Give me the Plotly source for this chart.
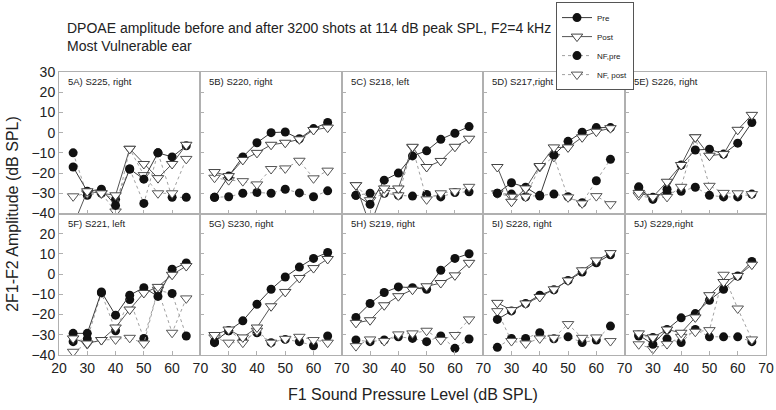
import plotly.graph_objects as go
from plotly.subplots import make_subplots

# ---------------- data ----------------
f1_levels = [25, 30, 35, 40, 45, 50, 55, 60, 65]

panel_labels = ["5A) S225, right", "5B) S220, right", "5C) S218, left", "5D) S217,right", "5E) S226, right",
                "5F) S221, left", "5G) S230, right", "5H) S219, right", "5I) S228, right", "5J) S229,right"]

pre_A = [-17, -29, -28, -36, -18, -23, -10, -12, -6.5]
post_A = [-46, -29, -30, -31, -8, -15.5, -22.5, -15.5, -6]
nfpre_A = [-10, -31, -30, -33, -18, -35, -10, -32, -32]
nfpost_A = [-31.5, -30, -30, -39, -8, -21, -30, -30, -13]

pre_B = [-32, -21.5, -12, -5, 0, 0.3, -3, 2, 5]
post_B = [-19.5, -21.5, -13.5, -10, -6, -5, -3.3, 1.3, 2.5]
nfpre_B = [-32, -31.7, -30, -29.6, -30, -28, -29.8, -31.7, -28.8]
nfpost_B = [-22.3, -23.5, -24, -25.6, -18, -17.7, -13.9, -22.6, -18.8]

pre_C = [-31, -35.4, -23.5, -20, -11.5, -9, -3.3, -0.3, 3]
post_C = [-26, -46, -27.6, -27.6, -7, -17, -14, -7, -3]
nfpre_C = [-31, -30, -30, -31, -31.4, -30.6, -31.8, -29.6, -29.3]
nfpost_C = [-26, -33.4, -29.8, -31, -7.3, -33, -30, -29, -26.8]

pre_D = [-30, -24.8, -27, -31.4, -11, -4.3, 0.2, 2.5, 2.5]
post_D = [-17, -34.2, -27.6, -16.5, -7.3, -7.3, -2.3, 0.5, 2.2]
nfpre_D = [-30, -30.4, -31.7, -31, -30.4, -31.7, -34.7, -23.8, -13.2]
nfpost_D = [-30, -31.7, -31.7, -17, -12, -32, -35, -31.4, -35.4]

pre_E = [-27.3, -33, -28, -16, -8.6, -8.2, -10.6, -5.2, 5]
post_E = [-29.8, -31.8, -24.3, -16, -2.3, -11.4, -10.6, 1.4, 8.8]
nfpre_E = [-26.8, -32, -29.8, -29, -27, -31, -31.8, -31.8, -30.4]
nfpost_E = [-31, -32.6, -31.8, -26.8, -2.3, -26.3, -29.8, -30, -30.4]

pre_F = [-29.3, -29.3, -8.8, -20.3, -10.4, -6.7, -11, 2.4, 5.5]
post_F = [-31.8, -34.3, -32.6, -26.4, -17.5, -9.3, -6.3, -0.3, 4]
nfpre_F = [-33.4, -32, -9.3, -28, -12.6, -31.8, -8, -9.6, -30.6]
nfpost_F = [-38.4, -34.6, -32.6, -32.3, -31.5, -34.3, -7.7, -29, -12]

pre_G = [-33.4, -28, -23.1, -14.9, -7.5, -1.4, 3.5, 7.8, 10.7]
post_G = [-30.1, -27.4, -31.3, -26.4, -15.9, -8.8, -1.9, 3, 7.5]
nfpre_G = [-33.9, -28, -32.6, -29, -33.9, -32.3, -33.4, -35.4, -30.6]
nfpost_G = [-31.3, -33.9, -33.9, -28, -33.9, -32, -31, -32.6, -33.9]

pre_H = [-21.4, -14.5, -9.1, -6.3, -6.7, -7.5, 1.9, 7.8, 10.1]
post_H = [-24.1, -22.8, -15.4, -10.9, -7.7, -6, -4.4, -0.6, 5.6]
nfpre_H = [-32.6, -33.4, -32.6, -31, -31.8, -33.4, -30.6, -36.7, -32.1]
nfpost_H = [-35.6, -32.3, -33.1, -29.8, -29.3, -28, -32.6, -30.1, -22.4]

pre_I = [-22.4, -18.2, -14.5, -10.4, -7.7, -3.1, 1, 5.6, 9.6]
post_I = [-14.2, -17.8, -14.5, -11.3, -7.5, -3.1, 1.9, 6.8, 10.4]
nfpre_I = [-36.2, -31.8, -31.8, -29, -32, -31, -33.8, -32.6, -25.7]
nfpost_I = [-18.3, -33.1, -34.3, -31.8, -31.5, -24.7, -31.5, -31.3, -33.1]

pre_J = [-30.1, -34.7, -27.4, -21.6, -19.5, -12.9, -7.5, -0.9, 6.3]
post_J = [-29.3, -31.3, -27.4, -29, -21.4, -10.4, -3.9, -0.9, 4.7]
nfpre_J = [-30.6, -31.3, -32, -33.8, -27.4, -31, -31, -31, -33.4]
nfpost_J = [-34.7, -37, -34.6, -31, -28.5, -27.7, -0.3, -17, -32.3]

x_tick_first = [20, 30, 40, 50, 60, 70]
x_tick_other = [30, 40, 50, 60, 70]
y_tick_top = [30, 20, 10, 0, -10, -20, -30, -40]
y_tick_bottom = [20, 10, 0, -10, -20, -30, -40]

panels = [
    (pre_A, post_A, nfpre_A, nfpost_A), (pre_B, post_B, nfpre_B, nfpost_B),
    (pre_C, post_C, nfpre_C, nfpost_C), (pre_D, post_D, nfpre_D, nfpost_D),
    (pre_E, post_E, nfpre_E, nfpost_E), (pre_F, post_F, nfpre_F, nfpost_F),
    (pre_G, post_G, nfpre_G, nfpost_G), (pre_H, post_H, nfpre_H, nfpost_H),
    (pre_I, post_I, nfpre_I, nfpost_I), (pre_J, post_J, nfpre_J, nfpost_J),
]

# ---------------- figure ----------------
FONT = "Liberation Sans, Arial, sans-serif"
fig = make_subplots(rows=2, cols=5, horizontal_spacing=0, vertical_spacing=0)

styles = [
    dict(name="Pre", line=dict(color="#3a3a3a", width=1, dash="solid"),
         marker=dict(symbol="circle", size=9, color="#111111", line=dict(width=0))),
    dict(name="Post", line=dict(color="#555555", width=1, dash="solid"),
         marker=dict(symbol="triangle-down", size=10, color="white", line=dict(color="#444444", width=1))),
    dict(name="NF,pre", line=dict(color="#a0a0a0", width=1, dash="dot"),
         marker=dict(symbol="circle", size=9, color="#111111", line=dict(width=0))),
    dict(name="NF, post", line=dict(color="#a0a0a0", width=1, dash="dot"),
         marker=dict(symbol="triangle-down", size=10, color="white", line=dict(color="#555555", width=1))),
]
order = [2, 3, 0, 1]  # draw noise floors underneath

for i, series in enumerate(panels):
    r, c = i // 5 + 1, i % 5 + 1
    for k in order:
        st = styles[k]
        fig.add_trace(go.Scatter(x=f1_levels, y=series[k], mode="lines+markers",
                                 name=st["name"], line=st["line"], marker=st["marker"],
                                 legendrank=k + 1, showlegend=(i == 0)),
                      row=r, col=c)
    fig.add_annotation(text=panel_labels[i], xref=f"x{i+1 if i else ''} domain",
                       yref=f"y{i+1 if i else ''} domain", x=0.05, y=0.985,
                       xanchor="left", yanchor="top", showarrow=False,
                       font=dict(family=FONT, size=9.5, color="#222"))

for i in range(10):
    r, c = i // 5 + 1, i % 5 + 1
    fig.update_xaxes(range=[20, 70], showline=True, mirror=True, linecolor="#b0b0b0", linewidth=1,
                     ticks="inside", ticklen=4, tickcolor="#b0b0b0", showgrid=False, zeroline=False,
                     tickvals=x_tick_first if c == 1 else x_tick_other,
                     showticklabels=(r == 2), tickfont=dict(family=FONT, size=14, color="#222"),
                     row=r, col=c)
    fig.update_yaxes(range=[-40, 30], showline=True, mirror=True, linecolor="#b0b0b0", linewidth=1,
                     ticks="inside", ticklen=4, tickcolor="#b0b0b0", showgrid=False, zeroline=False,
                     tickvals=y_tick_top if r == 1 else y_tick_bottom,
                     showticklabels=(c == 1), tickfont=dict(family=FONT, size=14, color="#222"),
                     row=r, col=c)

fig.add_annotation(text="DPOAE amplitude before and after 3200 shots at 114 dB peak SPL, F2=4 kHz<br>Most Vulnerable ear",
                   xref="paper", yref="paper", x=0.009, y=1.19, xanchor="left", yanchor="top",
                   align="left", showarrow=False, font=dict(family=FONT, size=14, color="#222"))
fig.add_annotation(text="2F1-F2 Amplitude (dB SPL)", xref="paper", yref="paper", x=-0.066, y=0.5,
                   xanchor="center", yanchor="middle",
                   textangle=-90, showarrow=False, font=dict(family=FONT, size=16, color="#222"))
fig.add_annotation(text="F1 Sound Pressure Level (dB SPL)", xref="paper", yref="paper", x=0.5, y=-0.14,
                   yanchor="middle", showarrow=False, font=dict(family=FONT, size=16, color="#222"))

fig.update_layout(
    width=776, height=410, margin=dict(l=59, r=10, t=72, b=55, autoexpand=False),
    paper_bgcolor="white", plot_bgcolor="white",
    legend=dict(x=0.8133, y=1.247, xanchor="right", yanchor="top", bordercolor="#555", borderwidth=1,
                font=dict(family=FONT, size=8, color="#222"), tracegroupgap=0, itemwidth=30,
                bgcolor="white"),
)

# remove the default 8px page margin so the figure fills the window exactly
fig.write_html("out.html", config={"displayModeBar": False},
               post_script="document.body.style.margin='0';")
